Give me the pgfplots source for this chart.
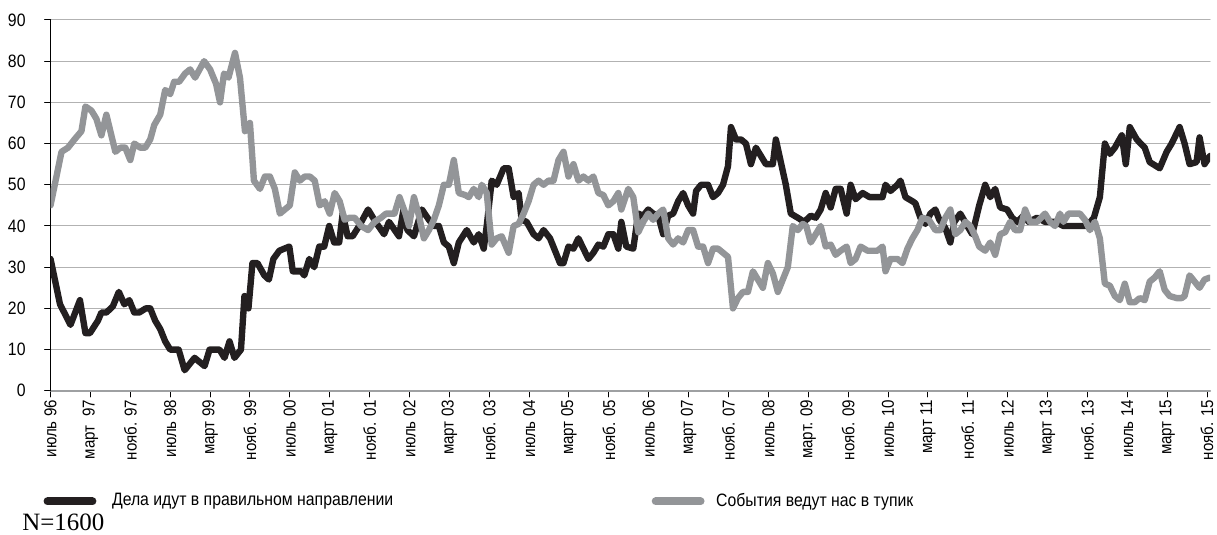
\documentclass[border=0pt]{standalone}
\usepackage{pgfplots}
\pgfplotsset{compat=1.18}
\usepackage{fontspec}
\setmainfont{Liberation Sans}[FakeStretch=0.88]
\newfontfamily\serifN{Liberation Serif}
\definecolor{cblack}{HTML}{231F20}
\definecolor{cgrey}{HTML}{939598}
\begin{document}
\begin{tikzpicture}
\path[use as bounding box] (-25.35pt,-72pt) rectangle (585pt,196pt);
\begin{axis}[
  at={(0,0)}, anchor=south west,
  scale only axis, width=581.5pt, height=186pt,
  xmin=0, xmax=232.6, ymin=0, ymax=90,
  axis x line=bottom, axis y line=left,
  x axis line style={-, cgrey!90, line width=1pt},
  y axis line style={-, black, line width=0.6pt},
  xtick={0,8,...,232},
  xticklabels={июль 96, март\ \ 97, нояб. 97, июль 98, март 99, нояб. 99, июль 00, март 01, нояб. 01, июль 02, март 03, нояб. 03, июль 04, март 05, нояб. 05, июль 06, март 07, нояб. 07, июль 08, март. 09, нояб. 09, июль 10, март 11, нояб. 11, июль 12, март 13, нояб. 13, июль 14, март 15, нояб. 15},
  ytick={0,10,...,90},
  /pgf/number format/assume math mode=true,
  tick align=outside, major tick length=3pt,
  tick style={black, line width=0.5pt},
  ymajorgrids, grid style={gray!60, line width=0.5pt},
  ticklabel style={font=\fontsize{9}{10}\selectfont},
  xticklabel style={rotate=90, anchor=east, inner sep=1.5pt, font=\fontsize{8.6}{9}\selectfont},
  yticklabel style={anchor=east, xshift=-6pt},
  line join=round, line cap=round,
]
\addplot[cblack, line width=3.2pt] coordinates {
(0,32) (1.9,21) (4,16) (5.9,22) (7,14) (7.9,14) (9.5,17) (10.2,19) (11.2,19) (12.5,20.5)
(13.7,24) (14.8,21) (15.8,22) (16.8,19) (17.8,19) (19.1,20) (20,20) (21,17) (22,15) (23,12)
(24,10) (25.7,10) (26.9,5) (28.9,8) (30.9,6) (31.9,10) (33.9,10) (34.9,8) (35.9,12) (36.9,8)
(38.2,10) (38.9,23) (39.7,20) (40.5,31) (41.5,31) (42.9,28) (43.8,27) (44.7,32) (45.9,34) (47.9,35)
(48.6,29) (50.3,29) (50.9,28) (51.9,32) (52.9,30) (53.9,35) (54.9,35) (55.9,40) (56.9,36) (57.9,36)
(58.6,43) (59.6,37.5) (60.6,37.5) (61.9,40) (63.7,44) (65.2,41) (66.9,38) (67.9,41) (69.9,37.5) (70.8,44)
(71.6,39) (72.9,37.5) (74.5,44) (75.9,41.5) (76.9,40) (77.9,40) (78.9,36) (79.9,35) (80.9,31) (81.9,36)
(83.5,39) (84.9,36) (85.9,38) (86.9,34.5) (87.5,40) (88.5,51) (89.5,50) (90.9,54) (91.9,54) (92.9,47)
(93.9,48) (94.5,41.5) (95.5,41) (96.9,38) (97.9,37) (98.9,39) (100.2,37) (101.2,34) (102.2,31) (102.9,31)
(103.9,35) (104.9,34.5) (105.9,37) (106.9,34.5) (107.9,32) (108.9,33.5) (109.9,35.5) (110.9,35) (111.9,38) (112.9,38)
(113.9,34.5) (114.5,41) (115.5,35) (116.9,34.5) (117.9,43) (118.9,42.5) (119.9,44) (120.9,43) (121.9,42.5) (122.9,38)
(123.9,42.5) (124.9,43) (125.9,46) (126.9,48) (127.9,45) (128.9,43) (129.5,48.5) (130.5,50) (131.9,50) (132.9,47)
(133.9,48) (134.9,50) (135.9,54.5) (136.5,64) (137.5,61) (138.5,61) (139.5,60) (140.5,55) (141.5,59) (142.5,57)
(143.5,55) (144.9,55) (145.5,61) (146.5,55.5) (147.5,50) (148.5,43) (149.9,42) (151.2,41) (152.5,42.5) (153.5,42)
(154.5,44) (155.5,48) (156.5,44.5) (157.5,49) (158.5,49) (159.7,43) (160.5,50) (161.5,46.5) (162.9,48) (164.3,47)
(165.9,47) (166.9,47) (167.5,50) (168.5,48.5) (169.9,50) (170.5,51) (171.5,47) (172.9,46) (173.5,45.5) (174.5,42)
(175.5,40.5) (176.5,43) (177.5,44) (178.3,41.5) (179.5,39.5) (180.5,36) (181.3,41) (182.5,43) (183.9,40) (184.9,38)
(186.3,45) (187.5,50) (188.5,47) (189.5,49) (190.5,44.5) (191.9,44) (192.9,42) (193.9,41) (195.2,42.5) (196.2,41)
(197.9,42) (199.5,41) (201.5,41) (203.2,40) (206.5,40) (207.9,40) (209.3,42) (210.5,47) (211.5,60) (212.5,57.5)
(213.5,59) (214.9,62) (215.7,55) (216.5,64) (217.9,61) (219.5,59) (220.5,55.5) (222.5,54) (223.9,58) (224.9,60)
(226.5,64) (227.5,60) (228.5,55) (229.9,55.5) (230.5,61.5) (231.5,55) (232.6,57)
};
\addplot[cgrey, line width=3.2pt] coordinates {
(0,45) (2.2,58) (3.5,59) (4.8,61) (6.2,63) (7,69) (8.2,68) (9.2,66) (10.2,62) (11.2,67)
(12,63) (13,58) (14,59) (15,59) (16,56) (16.8,60) (18,59) (19,59) (20,61) (20.8,64.5)
(22,67) (23,73) (24,72) (24.8,75) (25.8,75) (27,77) (28,78) (29,76) (30.8,80) (32,78)
(33.2,74.5) (34,70) (34.8,77) (35.7,76) (37,82) (38,76) (39,63) (40,65) (40.8,51) (42,49)
(43,52) (44,52) (45,49) (46,43) (47,44) (48,45) (49,53) (50,51) (51,52) (52,52)
(53,51) (54,45) (55,46) (56,43) (57,48) (58,46) (59,41.5) (60,42) (61,42) (62.3,40)
(63.7,39) (65,41) (66.3,42) (67.3,43) (69,43) (70,47) (71.2,43) (71.9,40) (72.9,47) (73.9,42.5)
(74.9,37) (75.9,39) (76.9,41.5) (77.9,45) (78.9,50) (79.9,50) (80.9,56) (81.9,48) (83.2,47.5) (83.9,47)
(84.9,49) (85.9,47) (86.5,50) (87.5,48) (88.5,35.5) (89.5,37) (90.5,37.5) (91.9,33.5) (92.9,40) (93.9,40.5)
(94.9,43) (95.9,46) (96.9,50) (97.9,51) (98.9,50) (99.9,51) (100.9,51) (101.9,56) (102.9,58) (103.9,52)
(104.9,55) (105.9,51) (106.9,52) (107.9,51) (108.9,52) (109.9,48) (110.9,47.5) (111.9,45) (112.9,46) (113.9,48)
(114.5,44) (115.9,49) (116.9,47) (117.9,38.5) (118.9,41) (119.9,43) (120.9,41.5) (121.9,43) (122.9,44) (123.9,37)
(124.9,35.5) (125.9,37) (126.9,36) (127.9,39) (128.9,39) (129.9,35) (130.9,35) (131.9,31) (132.9,34.5) (133.9,34.5)
(134.9,33.5) (135.9,32.5) (136.9,20) (137.9,22.5) (138.9,24) (139.9,24) (140.9,29) (141.9,27) (142.9,25) (143.9,31)
(144.9,28.5) (145.9,24) (146.9,27) (147.9,30) (148.9,40) (149.9,39) (150.9,40.5) (151.6,40) (152.5,36) (153.5,38)
(154.5,40) (155.5,35) (156.5,35.5) (157.5,33) (158.5,34) (159.7,35) (160.5,31) (161.5,32) (162.5,35) (163.9,34)
(165.9,34) (166.9,35) (167.5,29) (168.5,32) (169.9,32) (170.9,31) (171.9,34.5) (172.9,37) (173.9,39) (174.9,42)
(176.2,41.5) (177.5,39) (178.5,39) (179.5,42) (180.5,44) (181.5,38) (182.5,39) (183.5,41) (184.5,40) (185.5,37.5)
(186.3,35) (187.5,34) (188.5,36) (189.5,33) (190.5,38) (191.5,38.5) (192.5,41) (193.5,39) (194.5,39) (195.5,44)
(196.5,41) (197.9,41) (199.5,43) (200.5,41) (201.5,40) (202.5,43) (203.2,41) (204.2,43) (206.5,43) (207.5,41.5)
(208.5,39) (209.5,41) (210.5,37) (211.5,26) (212.5,25.5) (213.5,23) (214.5,22) (215.5,26) (216.5,21.5) (217.5,21.5)
(218.5,22.5) (219.5,22) (220.5,26.5) (221.5,27.5) (222.5,29) (223.5,24.5) (224.5,23) (225.9,22.5) (226.9,22.5) (227.5,23)
(228.5,28) (229.5,26.5) (230.5,25) (231.5,27) (232.6,27.5)
};
\end{axis}
\draw[cblack, line width=4pt, line cap=round] (-1.5pt,-55.5pt) -- (21pt,-55.5pt);
\node[anchor=west, inner sep=0pt, font=\fontsize{9}{10}\selectfont] at (30.65pt,-55.5pt) {Дела идут в правильном направлении};
\draw[cgrey, line width=4pt, line cap=round] (303.5pt,-55.5pt) -- (326pt,-55.5pt);
\node[anchor=west, inner sep=0pt, font=\fontsize{9}{10}\selectfont] at (333.65pt,-55.5pt) {События ведут нас в тупик};
\node[anchor=west, inner sep=0pt, font=\serifN\fontsize{12.5}{13}\selectfont] at (-14.35pt,-66pt) {N=1600};
\end{tikzpicture}
\end{document}
